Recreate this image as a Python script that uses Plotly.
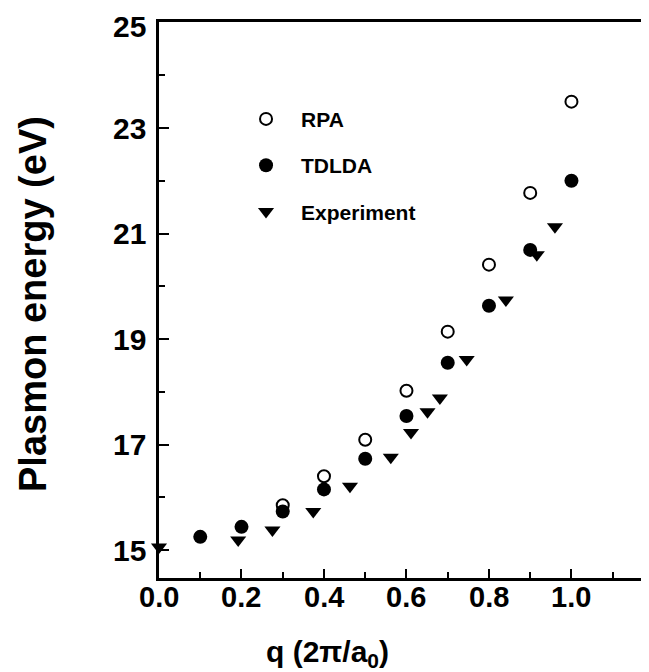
import plotly.graph_objects as go

# ---- data ----
q_rpa = [0.3, 0.4, 0.5, 0.6, 0.7, 0.8, 0.9, 1.0]
E_rpa = [15.85, 16.40, 17.09, 18.02, 19.14, 20.41, 21.77, 23.50]

q_tdlda = [0.1, 0.2, 0.3, 0.4, 0.5, 0.6, 0.7, 0.8, 0.9, 1.0]
E_tdlda = [15.25, 15.44, 15.73, 16.15, 16.73, 17.54, 18.55, 19.63, 20.69, 22.00]

q_exp = [0.0, 0.192, 0.275, 0.374, 0.463, 0.562, 0.611, 0.651, 0.681, 0.746, 0.841, 0.916, 0.96]
E_exp = [15.06, 15.19, 15.38, 15.73, 16.21, 16.76, 17.23, 17.62, 17.88, 18.61, 19.74, 20.60, 21.13]

x_ticks = [0.0, 0.2, 0.4, 0.6, 0.8, 1.0]
y_ticks = [15, 17, 19, 21, 23, 25]

FONT = "Liberation Sans, Arial, Helvetica, sans-serif"

fig = go.Figure()
fig.add_trace(go.Scatter(x=q_rpa, y=E_rpa, mode="markers", name="RPA", legendgroup="a",
                         marker=dict(symbol="circle-open", size=12, color="black",
                                     line=dict(width=2, color="black"))))
fig.add_trace(go.Scatter(x=q_tdlda, y=E_tdlda, mode="markers", name="TDLDA", legendgroup="b",
                         marker=dict(symbol="circle", size=14, color="black")))
fig.add_trace(go.Scatter(x=q_exp, y=E_exp, mode="markers", name="Experiment", legendgroup="c",
                         marker=dict(symbol="triangle-down", size=14, color="black"),
                         cliponaxis=False))

# the page body adds an 8px offset, so the figure is sized 8px smaller in each direction
fig.update_layout(
    width=641, height=664,
    margin=dict(l=151, r=0, t=14, b=94),
    paper_bgcolor="white", plot_bgcolor="white",
    font=dict(family=FONT, color="black"),
    showlegend=True,
    legend=dict(x=0.147, y=0.862, xanchor="left", yanchor="top",
                bgcolor="rgba(0,0,0,0)", borderwidth=0,
                font=dict(size=21, family=FONT, color="black", weight="bold"),
                tracegroupgap=16, itemwidth=60),
)

fig.update_xaxes(
    range=[0, 1.188], showgrid=False, zeroline=False,
    showline=True, linecolor="black", linewidth=2.5, mirror=True,
    ticks="inside", ticklen=9, tickwidth=1.5, tickcolor="black",
    tickvals=x_ticks, showticklabels=False,
    minor=dict(dtick=0.1, ticks="inside", ticklen=6, tickcolor="black", tickwidth=1.5, showgrid=False),
)
fig.update_yaxes(
    range=[14.47, 25.01], showgrid=False, zeroline=False,
    showline=True, linecolor="black", linewidth=2.5,
    ticks="inside", ticklen=10, tickwidth=1.5, tickcolor="black",
    tickvals=y_ticks, showticklabels=False,
    minor=dict(dtick=1, ticks="inside", ticklen=6, tickcolor="black", tickwidth=1.5, showgrid=False),
)

# tick labels placed on the axes' own data positions
for v in x_ticks:
    fig.add_annotation(text=f"{v:.1f}", xref="x", yref="paper", x=v, y=-(597.5 - 578) / 556,
                       xanchor="center", yanchor="middle", showarrow=False,
                       font=dict(size=29, family=FONT, color="black", weight="bold"))
for v in y_ticks:
    fig.add_annotation(text=str(v), xref="paper", yref="y", x=-(159 - 148) / 490, y=v,
                       xanchor="right", yanchor="middle", showarrow=False,
                       yshift=-4 if v == y_ticks[-1] else 0,
                       font=dict(size=30, family=FONT, color="black", weight="bold"))

fig.add_annotation(text="q (2\u03c0/a<sub>0</sub>)", xref="paper", yref="paper",
                   x=(327 - 159) / 490, y=-(653 - 578) / 556, xanchor="center", yanchor="middle",
                   showarrow=False, font=dict(size=30, family=FONT, color="black", weight="bold"))
fig.add_annotation(text="Plasmon energy (eV)", xref="paper", yref="paper",
                   x=-(159 - 33) / 490, y=(578 - 304) / 556, xanchor="center", yanchor="middle",
                   textangle=-90, showarrow=False,
                   font=dict(size=38, family=FONT, color="black", weight="bold"))

fig.write_html("out.html")
